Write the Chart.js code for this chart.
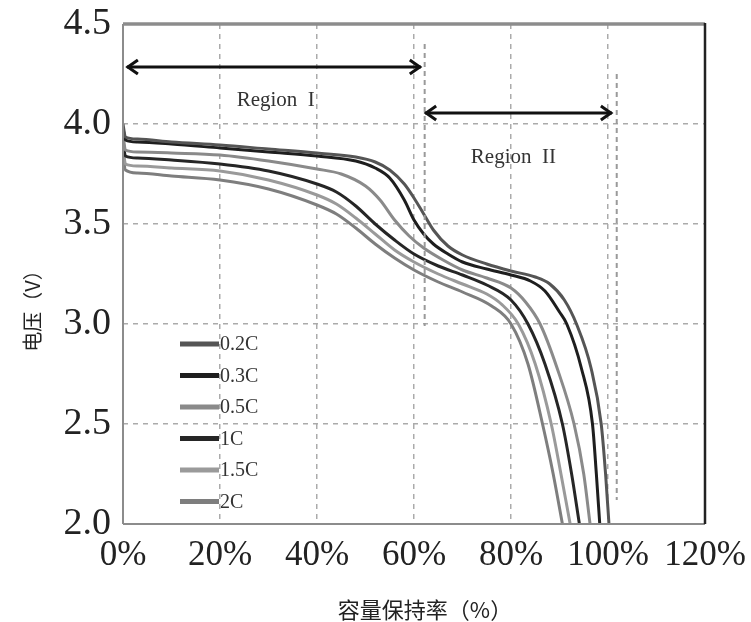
<!DOCTYPE html>
<html>
<head>
<meta charset="utf-8">
<script src="https://cdn.jsdelivr.net/npm/chart.js@4/dist/chart.umd.min.js"></script>
<style>
  html, body { margin: 0; padding: 0; background: #fff; }
  #wrap { width: 751px; height: 622px; }
</style>
</head>
<body>
<div id="wrap"><canvas id="c" width="751" height="622"></canvas></div>
<script>
// ---- data (capacity retention %, voltage V) ----
const seriesLabels = ['0.2C', '0.3C', '0.5C', '1C', '1.5C', '2C'];
const seriesColors = ['#555555', '#1e1e1e', '#8a8a8a', '#262626', '#9a9a9a', '#7e7e7e'];

const cap02  = [0, 0.5, 3, 10, 20, 30, 40, 48, 52, 55, 58, 60, 62, 64, 67, 70, 75, 80, 85, 88, 91, 93.5, 96.5, 98.6, 99.5, 100.2];
const volt02 = [4.00, 3.935, 3.925, 3.91, 3.895, 3.875, 3.855, 3.835, 3.81, 3.77, 3.70, 3.63, 3.55, 3.47, 3.39, 3.345, 3.30, 3.265, 3.235, 3.20, 3.12, 3.00, 2.78, 2.50, 2.25, 2.00];

const cap03  = [0, 0.5, 3, 10, 20, 30, 40, 48, 52, 55, 58, 60, 62, 64, 67, 70, 75, 80, 84, 87, 90, 91.5, 94.5, 96.8, 97.6, 98.3];
const volt03 = [3.98, 3.92, 3.91, 3.90, 3.88, 3.86, 3.84, 3.815, 3.78, 3.73, 3.62, 3.52, 3.45, 3.40, 3.35, 3.31, 3.275, 3.245, 3.215, 3.165, 3.06, 3.00, 2.78, 2.50, 2.25, 2.00];

const cap05  = [0, 0.5, 3, 10, 20, 30, 40, 45, 50, 53, 56, 59, 62, 66, 70, 75, 80, 83, 86, 89.5, 93, 95, 96.3];
const volt05 = [3.95, 3.87, 3.86, 3.855, 3.845, 3.815, 3.775, 3.75, 3.69, 3.62, 3.52, 3.44, 3.38, 3.32, 3.27, 3.23, 3.18, 3.11, 3.00, 2.78, 2.50, 2.25, 2.00];

const cap1   = [0, 0.5, 3, 10, 20, 30, 40, 44, 48, 52, 56, 60, 65, 70, 75, 80, 83.5, 87, 90.6, 92.5, 94.1];
const volt1  = [3.92, 3.84, 3.83, 3.82, 3.80, 3.765, 3.70, 3.66, 3.59, 3.50, 3.42, 3.35, 3.29, 3.245, 3.195, 3.12, 3.00, 2.80, 2.50, 2.25, 2.00];

const cap15  = [0, 0.5, 3, 10, 20, 30, 40, 44, 48, 52, 56, 60, 65, 70, 75, 78, 81.5, 85, 88.3, 90.3, 92.2];
const volt15 = [3.89, 3.80, 3.79, 3.78, 3.765, 3.72, 3.645, 3.60, 3.53, 3.45, 3.37, 3.31, 3.25, 3.20, 3.15, 3.10, 3.00, 2.80, 2.50, 2.25, 2.00];

const cap2   = [0, 0.5, 3, 10, 20, 30, 40, 44, 48, 52, 56, 60, 65, 70, 76, 80, 83.5, 86.5, 88.7, 90.6];
const volt2  = [3.86, 3.77, 3.755, 3.74, 3.72, 3.675, 3.595, 3.55, 3.48, 3.40, 3.33, 3.27, 3.21, 3.16, 3.09, 3.00, 2.80, 2.50, 2.25, 2.00];

const xTicks = [0, 20, 40, 60, 80, 100, 120];
const yTicks = [2.0, 2.5, 3.0, 3.5, 4.0, 4.5];

const xTitle = '容量保持率（%）';
const yTitle = '电压（V）';

// region annotations (data units)
const regionLabels = ['Region  I', 'Region  II'];
const regionStart  = [0.8, 62.3];
const regionEnd    = [61.4, 100.8];
const regionArrowV = [4.285, 4.055];
const regionTextV  = [4.12, 3.835];
const regionTextX  = [31.5, 80.5];
const boundaryX    = [62.2, 101.8];
const boundaryTop  = [4.4, 4.25];
const boundaryBot  = [2.99, 2.12];

const capSets  = [cap02, cap03, cap05, cap1, cap15, cap2];
const voltSets = [volt02, volt03, volt05, volt1, volt15, volt2];

const datasets = seriesLabels.map((lab, i) => ({
  label: lab,
  data: capSets[i].map((x, j) => ({ x: x, y: voltSets[i][j] })),
  borderColor: seriesColors[i],
  backgroundColor: seriesColors[i],
  borderWidth: 3,
  pointRadius: 0,
  cubicInterpolationMode: 'monotone',
  fill: false
}));

const serif = '"Liberation Serif", "DejaVu Serif", serif';
const cjk = '"Noto Sans CJK SC", "Noto Sans", sans-serif';

const decorPlugin = {
  id: 'decor',
  afterDatasetsDraw(chart) {
    const ctx = chart.ctx;
    const xs = chart.scales.x, ys = chart.scales.y;
    const a = chart.chartArea;
    ctx.save();
    // boundary dashed lines
    ctx.strokeStyle = '#9a9a9a';
    ctx.lineWidth = 2;
    ctx.setLineDash([5, 4]);
    boundaryX.forEach((bx, i) => {
      const px = xs.getPixelForValue(bx);
      ctx.beginPath();
      ctx.moveTo(px, ys.getPixelForValue(boundaryTop[i]));
      ctx.lineTo(px, ys.getPixelForValue(boundaryBot[i]));
      ctx.stroke();
    });
    ctx.setLineDash([]);
    // arrows
    ctx.strokeStyle = '#111';
    ctx.lineWidth = 3;
    regionStart.forEach((s, i) => {
      const x1 = xs.getPixelForValue(s), x2 = xs.getPixelForValue(regionEnd[i]);
      const y = ys.getPixelForValue(regionArrowV[i]);
      ctx.beginPath();
      ctx.moveTo(x1, y); ctx.lineTo(x2, y); ctx.stroke();
      ctx.beginPath();
      ctx.moveTo(x1 + 11, y - 7); ctx.lineTo(x1 + 1, y); ctx.lineTo(x1 + 11, y + 7);
      ctx.moveTo(x2 - 11, y - 7); ctx.lineTo(x2 - 1, y); ctx.lineTo(x2 - 11, y + 7);
      ctx.stroke();
      ctx.fillStyle = '#333';
      ctx.font = '21px ' + serif;
      ctx.textAlign = 'center';
      ctx.textBaseline = 'middle';
      ctx.fillText(regionLabels[i], xs.getPixelForValue(regionTextX[i]), ys.getPixelForValue(regionTextV[i]));
    });
    // frame
    ctx.lineWidth = 2;
    ctx.strokeStyle = '#8c8c8c';
    ctx.beginPath(); ctx.moveTo(a.left, a.top); ctx.lineTo(a.left, a.bottom); ctx.stroke();
    ctx.beginPath(); ctx.moveTo(a.left, a.bottom); ctx.lineTo(a.right, a.bottom); ctx.stroke();
    ctx.lineWidth = 3.5;
    ctx.beginPath(); ctx.moveTo(a.left, a.top); ctx.lineTo(a.right, a.top); ctx.stroke();
    ctx.lineWidth = 2.5;
    ctx.strokeStyle = '#222';
    ctx.beginPath(); ctx.moveTo(a.right, a.top - 1); ctx.lineTo(a.right, a.bottom); ctx.stroke();
    // legend
    chart.data.datasets.forEach((ds, i) => {
      const y = 344 + i * 31.5;
      ctx.strokeStyle = ds.borderColor;
      ctx.lineWidth = 5;
      ctx.beginPath(); ctx.moveTo(180, y); ctx.lineTo(219, y); ctx.stroke();
      ctx.fillStyle = '#333';
      ctx.font = '20px ' + serif;
      ctx.textAlign = 'left';
      ctx.textBaseline = 'middle';
      ctx.fillText(ds.label, 220, y + 1);
    });
    // axis titles
    ctx.fillStyle = '#222';
    ctx.textAlign = 'center';
    ctx.textBaseline = 'middle';
    ctx.font = '22px ' + cjk;
    ctx.fillText(xTitle, 425, 610);
    ctx.save();
    ctx.translate(32, 306);
    ctx.rotate(-Math.PI / 2);
    ctx.font = '20px ' + cjk;
    ctx.fillText(yTitle, 0, 0);
    ctx.restore();
    ctx.restore();
  }
};

new Chart(document.getElementById('c'), {
  type: 'line',
  data: { datasets: datasets },
  options: {
    responsive: false,
    animation: false,
    devicePixelRatio: 1,
    layout: { padding: { top: 24, right: 46, left: 0, bottom: 0 } },
    plugins: { legend: { display: false }, tooltip: { enabled: false } },
    scales: {
      x: {
        type: 'linear',
        min: 0, max: 120,
        afterFit(s) { s.height = 98; s.paddingLeft = 0; s.paddingRight = 0; },
        afterBuildTicks(s) { s.ticks = xTicks.map(v => ({ value: v })); },
        ticks: {
          callback: v => v + '%',
          font: { family: serif, size: 35 },
          color: '#222',
          padding: 11,
          maxRotation: 0,
          autoSkip: false
        },
        grid: { color: '#ababab', lineWidth: 1.5, drawTicks: false },
        border: { display: false, dash: [5, 5] },
        title: { display: false, text: xTitle }
      },
      y: {
        type: 'linear',
        min: 2, max: 4.5,
        afterFit(s) { s.width = 123; s.paddingTop = 0; s.paddingBottom = 0; },
        afterBuildTicks(s) { s.ticks = yTicks.map(v => ({ value: v })); },
        ticks: {
          callback: v => Number(v).toFixed(1),
          font: { family: serif, size: 38 },
          color: '#222',
          padding: 12
        },
        grid: { color: '#ababab', lineWidth: 1.5, drawTicks: false },
        border: { display: false, dash: [5, 5] },
        title: { display: false, text: yTitle }
      }
    }
  },
  plugins: [decorPlugin]
});
</script>
</body>
</html>
